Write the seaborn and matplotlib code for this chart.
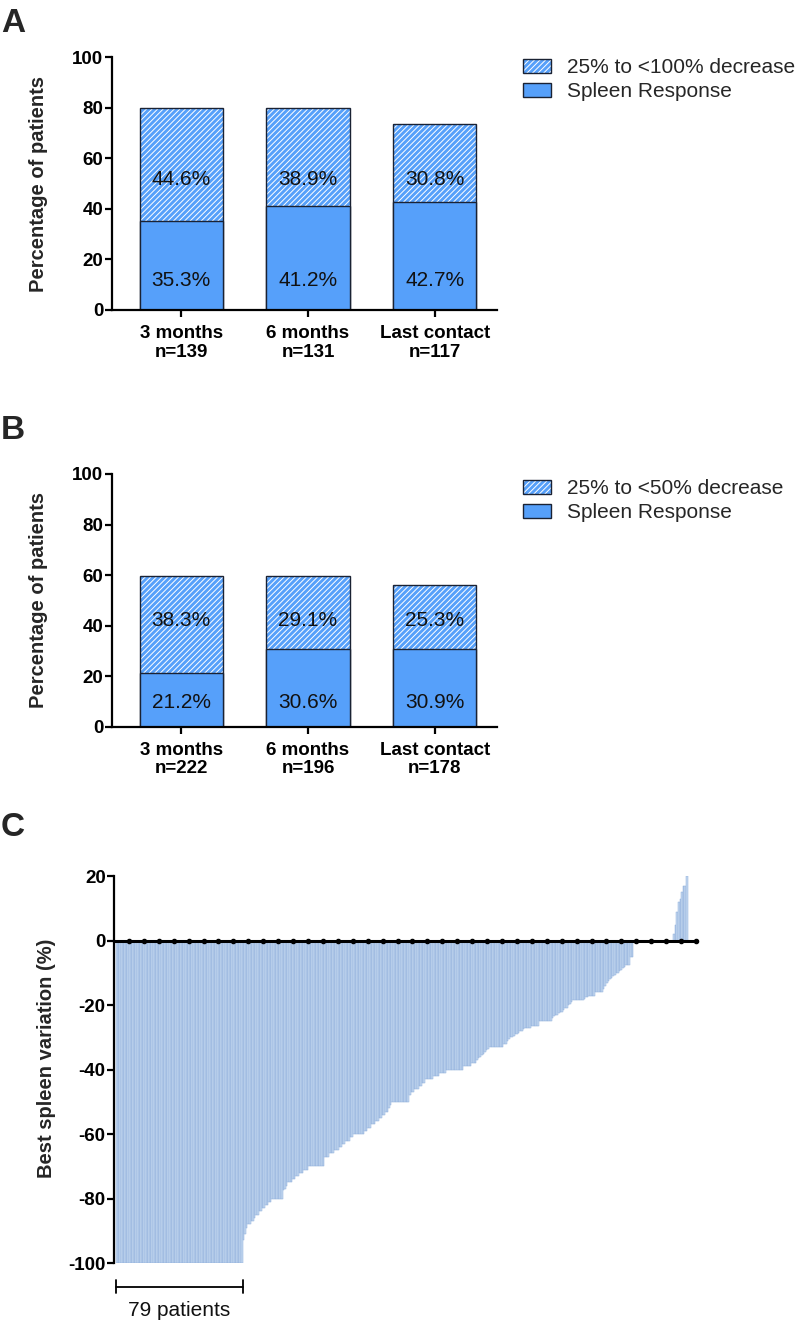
import numpy as np
import pandas as pd
import matplotlib
matplotlib.use("Agg")
import matplotlib.pyplot as plt
import seaborn as sns
from matplotlib.patches import Patch
from matplotlib.legend_handler import HandlerTuple

# ---------------------------------------------------------------------------
# Data
# ---------------------------------------------------------------------------
a_labels = ["3 months\nn=139", "6 months\nn=131", "Last contact\nn=117"]
a_response = [35.3, 41.2, 42.7]
a_partial = [44.6, 38.9, 30.8]

b_labels = ["3 months\nn=222", "6 months\nn=196", "Last contact\nn=178"]
b_response = [21.2, 30.6, 30.9]
b_partial = [38.3, 29.1, 25.3]

# waterfall: best spleen variation level and number of patients at that level
c_levels = [-100, -93, -91, -89, -88, -87, -86, -85, -84, -83, -82, -81, -80,
            -77.5, -77, -76, -75, -74, -73, -72, -71, -70,
            -67, -66, -65, -64, -63, -62, -61, -60,
            -59, -58, -57, -56, -55, -54, -53, -52, -51, -50,
            -48, -47, -46, -45, -44, -43, -42, -41, -40,
            -39, -38, -37, -36.5, -36, -35.5, -35, -34.5, -34, -33.5, -33,
            -32, -31, -30.5, -30, -29.5, -29, -28.5, -28, -27.5, -27, -26.5, -25,
            -24, -23.5, -23, -22.5, -22, -21.5, -21, -20, -19.5, -19, -18.5,
            -18, -17.5, -17, -16, -15, -14, -13, -12.5, -12, -11.5, -11, -10.5, -10,
            -9.5, -9, -8.5, -8, -7.5, -5,
            0, 2, 5, 9, 12, 13, 15, 17, 20]
c_counts = [79, 1, 1, 1, 2, 2, 1, 2, 2, 2, 2, 2, 7,
            1, 1, 1, 3, 2, 2, 3, 3, 10,
            3, 3, 3, 2, 2, 3, 2, 7,
            2, 2, 3, 2, 2, 2, 2, 1, 1, 11,
            1, 2, 3, 2, 2, 5, 4, 4, 11,
            5, 3, 1, 1, 1, 1, 1, 1, 1, 1, 9,
            2, 1, 1, 2, 1, 2, 1, 2, 1, 4, 5, 8,
            1, 1, 2, 1, 2, 1, 2, 1, 1, 1, 7,
            1, 2, 4, 5, 1, 1, 1, 1, 1, 1, 1, 1, 2,
            1, 1, 1, 1, 3, 2,
            25, 1, 1, 1, 1, 1, 1, 2, 1]

BLUE = "#56a0fa"
EDGE = "#1a2233"
LIGHT = "#c4d7ef"
LIGHT_EDGE = "#8eaedb"
TICK_FS = 13.5
LABEL_FS = 14.5
TEXT_FS = 15

sns.set_theme(style="ticks")
plt.rcParams["font.family"] = ["Liberation Sans", "DejaVu Sans"]
plt.rcParams["axes.unicode_minus"] = False
plt.rcParams["hatch.linewidth"] = 0.7

W, H = 796, 1323
fig = plt.figure(figsize=(W / 100, H / 100), dpi=100)


def px_axes(left, top, right, bottom):
    return fig.add_axes([left / W, 1 - bottom / H, (right - left) / W, (bottom - top) / H])


def style_axis(ax):
    sns.despine(ax=ax)
    for s in ("left", "bottom"):
        ax.spines[s].set_linewidth(1.6)
        ax.spines[s].set_color("black")
    ax.tick_params(axis="both", direction="out", length=5, width=1.6,
                   labelsize=TICK_FS, pad=1, colors="black")
    for t in ax.get_yticklabels():
        t.set_fontweight("bold")


def stacked_panel(ax, labels, response, partial, legend_label, text_y, legend_top):
    df = pd.DataFrame({"time": labels, "response": response, "partial": partial})
    df["total"] = df["response"] + df["partial"]

    # hatched total bar, its outline, then the solid response part on top
    sns.barplot(data=df, x="time", y="total", color=BLUE, saturation=1, width=0.66,
                hatch="//////", edgecolor="white", linewidth=0, errorbar=None, ax=ax)
    sns.barplot(data=df, x="time", y="total", fill=False, color=EDGE, width=0.66,
                linewidth=1.0, errorbar=None, ax=ax)
    sns.barplot(data=df, x="time", y="response", color=BLUE, saturation=1, width=0.66,
                edgecolor=EDGE, linewidth=1.0, errorbar=None, ax=ax)

    for i, row in df.iterrows():
        ax.text(i, text_y[0], f"{row['partial']:.1f}%", ha="center", va="center",
                fontsize=TEXT_FS, color="#111111")
        ax.text(i, text_y[1], f"{row['response']:.1f}%", ha="center", va="center",
                fontsize=TEXT_FS, color="#111111")

    ax.set_ylim(0, 100)
    ax.set_yticks(range(0, 101, 20))
    ax.set_xlim(-0.55, 2.49)
    ax.set_xlabel("")
    ax.set_ylabel("Percentage of patients", fontsize=LABEL_FS, fontweight="bold")
    ax.yaxis.set_label_coords(-0.1655, 0.5)
    style_axis(ax)
    ax.set_xticks(range(len(labels)))
    ax.set_xticklabels(labels, fontweight="bold", fontsize=TICK_FS, linespacing=1.1)
    ax.tick_params(axis="x", pad=6)

    hatch_h = (Patch(facecolor=BLUE, edgecolor="white", hatch="//////", linewidth=0),
               Patch(facecolor="none", edgecolor=EDGE, linewidth=1.0))
    solid_h = Patch(facecolor=BLUE, edgecolor=EDGE, linewidth=1.0)
    fig.legend([hatch_h, solid_h], [legend_label, "Spleen Response"],
               handler_map={tuple: HandlerTuple(ndivide=1)},
               loc="upper left", bbox_to_anchor=(523 / W, 1 - legend_top / H),
               frameon=False, fontsize=TEXT_FS, borderpad=0, borderaxespad=0,
               handlelength=1.35, handleheight=0.67, handletextpad=0.77,
               labelspacing=0.25)


axA = px_axes(111.7, 57.3, 496.7, 310)
stacked_panel(axA, a_labels, a_response, a_partial, "25% to <100% decrease",
              (51.5, 11.5), 58)

axB = px_axes(111.7, 474, 496.7, 726.7)
stacked_panel(axB, b_labels, b_response, b_partial, "25% to <50% decrease",
              (42, 9.5), 479)

# ---------------------------------------------------------------------------
# Panel C: waterfall of best spleen variation
# ---------------------------------------------------------------------------
values = np.repeat(c_levels, c_counts).astype(float)
wf = pd.DataFrame({"patient": np.arange(len(values)), "variation": values})

axC = px_axes(114, 876.3, 696, 1263)
sns.barplot(data=wf, x="patient", y="variation", native_scale=True, width=1,
            color=LIGHT, saturation=1, edgecolor=LIGHT_EDGE, linewidth=0.35,
            errorbar=None, ax=axC)
x0, x1 = -1.9, 361.8
axC.set_xlim(x0, x1)
axC.set_ylim(-100, 20)
axC.set_yticks(range(-100, 21, 20))
axC.set_xlabel("")
axC.set_ylabel("Best spleen variation (%)", fontsize=LABEL_FS, fontweight="bold")
axC.yaxis.set_label_coords(-0.0997, 0.53)
style_axis(axC)
axC.spines["bottom"].set_position(("data", 0))
axC.spines["bottom"].set_linewidth(2.2)
axC.set_xticks([])
dots = np.linspace(x0, x1, 40)[1:]
axC.plot(dots, np.zeros_like(dots), "o", color="black", ms=3.0, clip_on=False, zorder=5)

# bracket under the patients at -100 %
n_full = c_counts[0]
bx0, bx1 = -0.5, n_full - 0.5
axC.plot([bx0, bx1], [-107.4, -107.4], color="black", lw=1.3, clip_on=False)
for bx in (bx0, bx1):
    axC.plot([bx, bx], [-105.4, -109.4], color="black", lw=1.3, clip_on=False)
axC.text((bx0 + bx1) / 2, -114.6, f"{n_full} patients", ha="center", va="center",
         fontsize=TEXT_FS, color="#111111", clip_on=False)

# panel letters
for letter, top in (("A", 8), ("B", 415), ("C", 812)):
    fig.text(1 / W, 1 - top / H, letter, fontsize=24, fontweight="bold",
             ha="left", va="top")

fig.savefig("out.png", dpi=100)
